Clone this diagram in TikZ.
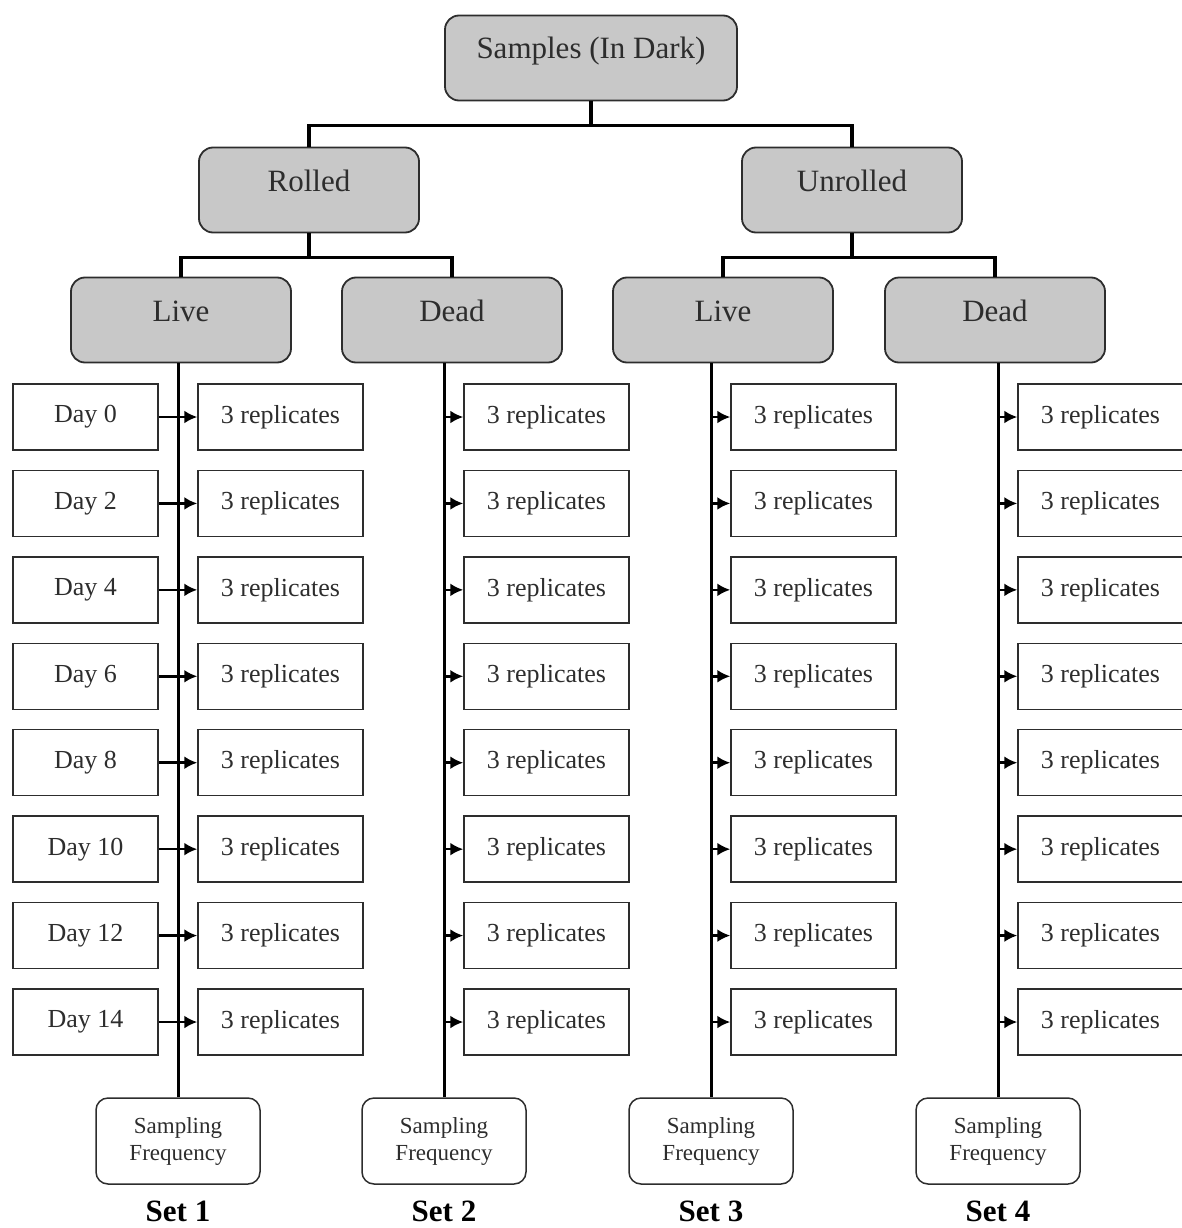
\documentclass[tikz,border=0pt]{standalone}
\usepackage{fontspec}
\setmainfont{Liberation Serif}
\usetikzlibrary{positioning,arrows.meta}
\definecolor{boxgray}{RGB}{200,200,200}
\definecolor{inkgray}{RGB}{45,45,45}
\tikzset{
    catbox/.style={draw=inkgray, fill=boxgray, rounded corners=14pt, line width=1.8pt,
        minimum width=220pt, minimum height=85pt, text height=21pt, text depth=19pt,
        text=inkgray, font=\fontsize{31}{36}\selectfont},
    daybox/.style={draw=inkgray, line width=1.5pt, minimum width=145pt, minimum height=66pt,
        text=inkgray, font=\fontsize{26}{30}\selectfont},
    repbox/.style={daybox, minimum width=165pt},
    freqbox/.style={draw=inkgray, rounded corners=12pt, line width=1.5pt, minimum width=164pt,
        minimum height=86pt, align=center, text=inkgray, font=\fontsize{23}{27}\selectfont},
    setlabel/.style={text=black, font=\bfseries\fontsize{31}{36}\selectfont},
    link/.style={draw=black, line width=3.5pt},
    stem/.style={draw=black, line width=3pt},
    feed/.style={draw=black, line width=2.5pt, -{Latex[length=13pt,width=13pt]}}
}
\begin{document}
\begin{tikzpicture}[x=1pt,y=-1pt]
	\useasboundingbox (0,0) rectangle (1181,1228);
	% upper levels
	\node[catbox, minimum width=292pt] (samples) at (591,58) {Samples (In Dark)};
	\node[catbox] (rolled) at (309,190) {Rolled};
	\node[catbox] (unrolled) at (852,190) {Unrolled};
	\node[catbox] (branch1) at (181,320) {Live};
	\node[catbox] (branch2) at (452,320) {Dead};
	\node[catbox] (branch3) at (723,320) {Live};
	\node[catbox] (branch4) at (995,320) {Dead};
	\draw[link] (samples.south) -- ++(0,24) coordinate (j0);
	\draw[link] (rolled.north) |- (j0) -| (unrolled.north);
	\draw[link] (rolled.south) -- ++(0,24) coordinate (j1);
	\draw[link] (branch1.north) |- (j1) -| (branch2.north);
	\draw[link] (unrolled.south) -- ++(0,24) coordinate (j2);
	\draw[link] (branch3.north) |- (j2) -| (branch4.north);
	% sets
	\foreach \s/\lx/\rx in {1/178/280.5, 2/444/546.5, 3/711/813.5, 4/998/1100.5} {
		\node[freqbox] (freq\s) at (\lx,1141) {Sampling\\Frequency};
		\node[setlabel] (set\s) at (\lx,1211) {Set \s};
		\draw[stem] (freq\s.north) -- (freq\s.north |- branch\s.south);
		\foreach \i in {0,...,7} {
			\node[repbox] (rep\s-\i) at (\rx,{417+86.43*\i}) {3 replicates};
		}
	}
	% days
	\foreach \d [count=\i from 0] in {0,2,...,14} {
		\node[daybox] (day\i) at (85.5,{417+86.43*\i}) {Day \d};
		\draw[feed] (day\i.east) -- (rep1-\i.west);
	}
	\foreach \s in {2,3,4} {
		\foreach \i in {0,...,7} {
			\draw[feed] (rep\s-\i.west -| freq\s.north) -- (rep\s-\i.west);
		}
	}
\end{tikzpicture}
\end{document}
